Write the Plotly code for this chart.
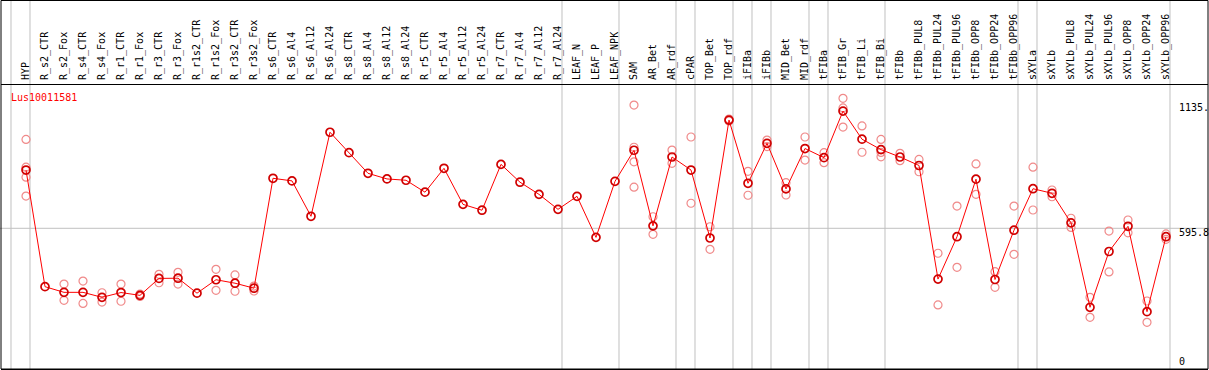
import plotly.graph_objects as go

categories = ["HYP", "R_s2_CTR", "R_s2_Fox", "R_s4_CTR", "R_s4_Fox", "R_r1_CTR", "R_r1_Fox",
              "R_r3_CTR", "R_r3_Fox", "R_r1s2_CTR", "R_r1s2_Fox", "R_r3s2_CTR", "R_r3s2_Fox",
              "R_s6_CTR", "R_s6_Al4", "R_s6_Al12", "R_s6_Al24", "R_s8_CTR", "R_s8_Al4", "R_s8_Al12",
              "R_s8_Al24", "R_r5_CTR", "R_r5_Al4", "R_r5_Al12", "R_r5_Al24", "R_r7_CTR", "R_r7_Al4",
              "R_r7_Al12", "R_r7_Al24", "LEAF_N", "LEAF_P", "LEAF_NPK", "SAM", "AR_Bet", "AR_rdf",
              "cPAR", "TOP_Bet", "TOP_rdf", "iFIBa", "iFIBb", "MID_Bet", "MID_rdf", "tFIBa",
              "tFIB_Gr", "tFIB_Li", "tFIB_Bi", "tFIBb", "tFIBb_PUL8", "tFIBb_PUL24", "tFIBb_PUL96",
              "tFIBb_OPP8", "tFIBb_OPP24", "tFIBb_OPP96", "sXYLa", "sXYLb", "sXYLb_PUL8",
              "sXYLb_PUL24", "sXYLb_PUL96", "sXYLb_OPP8", "sXYLb_OPP24", "sXYLb_OPP96"]

means = [864, 327, 301, 301, 278, 300, 287, 365, 366, 297, 359, 343, 320,
         826, 814, 651, 1038, 944, 849, 823, 817, 762, 872, 706, 679, 890, 808, 752, 683,
         743, 554, 812, 955, 607, 924, 864, 551, 1094, 803, 987, 777, 963, 921,
         1135.4, 1006, 958, 924, 885, 362, 557, 822, 360, 587, 778, 757, 621,
         232, 489, 605, 212, 557]

replicates = [
    [1005, 877, 831, 744], [], [339, 264], [353, 250], [299, 256], [339, 260], [293, 282],
    [384, 345], [393, 339], [], [407, 310], [381, 306], [330, 307],
    [], [], [], [], [], [], [], [], [], [], [], [], [], [], [], [],
    [], [], [], [1163, 969, 902, 785], [649, 568], [956, 895], [1016, 711], [603, 499],
    [1099, 1090], [858, 748], [1002, 972], [806, 749], [1016, 910], [944, 898],
    [1194, 1150, 1062], [1067, 946], [1005, 945, 925], [941, 907], [913, 856], [481, 243],
    [698, 416], [892, 752], [396, 324], [698, 476], [877, 680], [772, 741], [642, 600],
    [278, 186], [583, 395], [634, 575], [261, 163], [570, 545]]

separators = [-1, 0, 28, 31, 34, 35, 37, 38, 39, 41, 42, 45, 52, 53, 60]
mid_value = 595.8
right_labels = [("1135.", 1135.4, 4), ("595.8", 595.8, -4), ("0", 0, -4)]
gene_name = "Lus10011581"

idx = list(range(len(categories)))
rx, ry = [], []
for i, reps in enumerate(replicates):
    for v in reps:
        rx.append(i)
        ry.append(v)

fig = go.Figure()
fig.add_trace(go.Scatter(x=rx, y=ry, mode="markers", hoverinfo="skip",
                         marker=dict(symbol="circle-open", size=8, color="#f08a8a",
                                     line=dict(width=1.2))))
fig.add_trace(go.Scatter(x=idx, y=means, mode="lines+markers",
                         line=dict(color="#ff0000", width=1),
                         marker=dict(symbol="circle-open", size=8, color="#d00000",
                                     line=dict(width=1.7))))

H_TOP = 85
PLOT_H = 284
ytop_paper = 1 + H_TOP / PLOT_H
shapes = []
for s in separators:
    shapes.append(dict(type="line", xref="x", yref="paper", x0=s + 0.21, x1=s + 0.21,
                       y0=0, y1=ytop_paper, line=dict(color="#c0c0c0", width=1), layer="below"))
shapes.append(dict(type="line", xref="paper", yref="y", x0=-0.01, x1=1.01,
                   y0=mid_value, y1=mid_value, line=dict(color="#c0c0c0", width=1), layer="below"))
shapes.append(dict(type="rect", xref="paper", yref="paper", x0=0, x1=1,
                   y0=0, y1=ytop_paper - 0.5 / PLOT_H, line=dict(color="black", width=1)))

annotations = [dict(text=gene_name, xref="paper", yref="paper", x=8 / 1207, y=(369 - 97) / PLOT_H,
                    xanchor="left", yanchor="middle", showarrow=False,
                    font=dict(family="DejaVu Sans Mono", size=10, color="#ff0000"))]
for txt, val, shift in right_labels:
    annotations.append(dict(text=txt, xref="paper", yref="y", x=1176 / 1207, y=val, yshift=shift,
                            xanchor="left", yanchor="middle", showarrow=False,
                            font=dict(family="DejaVu Sans Mono", size=10, color="black")))

xmin = -25 / 19
xmax = xmin + 1207 / 19
fig.update_layout(
    width=1209, height=370, margin=dict(l=1, r=1, t=H_TOP, b=1),
    paper_bgcolor="white", plot_bgcolor="white", showlegend=False,
    shapes=shapes, annotations=annotations,
    xaxis=dict(range=[xmin, xmax], side="top", tickmode="array", tickvals=idx, ticktext=categories,
               tickangle=-90, showgrid=False, zeroline=False, showline=True, linecolor="black",
               linewidth=1, mirror=True, ticks="", ticklabelstandoff=2,
               tickfont=dict(family="DejaVu Sans Mono", size=10, color="black")),
    yaxis=dict(range=[-52, 1255.5], showgrid=False, zeroline=False, showticklabels=False,
               ticks="", showline=False),
)
fig.write_html("out.html", config={"displayModeBar": False},
               post_script="document.body.style.margin='0';document.body.style.overflow='hidden';")
